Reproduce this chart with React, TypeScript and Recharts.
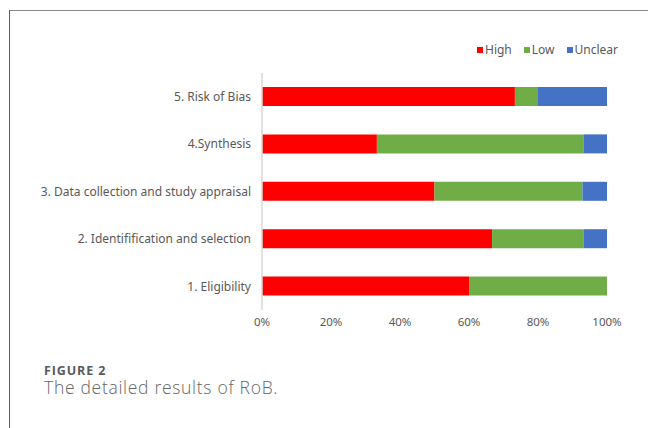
import React from "react";
import { BarChart, Bar, XAxis, YAxis, Legend } from "recharts";

const categories = [
  "5. Risk of Bias",
  "4.Synthesis",
  "3. Data collection and study appraisal",
  "2. Identifification and selection",
  "1. Eligibility",
];
const highValues = [73.3, 33.3, 50, 66.7, 60];
const lowValues = [6.7, 60, 42.9, 26.6, 40];
const unclearValues = [20, 6.7, 7.1, 6.7, 0];
const xTicks = [0, 20, 40, 60, 80, 100];

const seriesNames = ["High", "Low", "Unclear"];
const seriesColors = ["#FF0000", "#70AD47", "#4472C4"];

const data = categories.map((c, i) => ({
  name: c,
  High: highValues[i],
  Low: lowValues[i],
  Unclear: unclearValues[i],
}));

const FONT = "'Noto Sans', 'Open Sans', sans-serif";

const LegendContent = (props: any) => {
  const payload = props.payload || [];
  return (
    <div style={{ display: "flex", height: 16, lineHeight: "16px", fontFamily: FONT, fontSize: 12, color: "#595959" }}>
      {payload.map((p: any, i: number) => (
        <div key={i} style={{ display: "flex", alignItems: "center", marginRight: 12 }}>
          <span style={{ width: 6, height: 6, background: p.color, display: "inline-block", marginRight: 2 }} />
          <span>{p.value}</span>
        </div>
      ))}
    </div>
  );
};

export default function App() {
  return (
    <div style={{ position: "absolute", left: 0, top: 0, width: 648, height: 428, background: "#fff", overflow: "hidden" }}>
      <div style={{ position: "absolute", left: 9, top: 10, width: 639, height: 1, background: "#8a8a8a" }} />
      <div style={{ position: "absolute", left: 9, top: 10, width: 1, height: 418, background: "#5a5a5a" }} />
      <div style={{ position: "absolute", left: 0, top: 0 }}>
        <BarChart
          width={648}
          height={428}
          data={data}
          layout="vertical"
          margin={{ top: 57, right: 41, bottom: 88, left: 0 }}
        >
          <XAxis
            type="number"
            domain={[0, 100]}
            ticks={xTicks}
            tickFormatter={(v: number) => `${v}%`}
            axisLine={false}
            tickLine={false}
            tickSize={0}
            tickMargin={8}
            height={30}
            tick={{ fill: "#595959", fontSize: 11.5, fontFamily: FONT }}
          />
          <YAxis
            type="category"
            dataKey="name"
            width={262}
            axisLine={{ stroke: "#d9d9d9", strokeWidth: 1.5 }}
            tickLine={false}
            tickSize={0}
            tickMargin={11}
            tick={{ fill: "#595959", fontSize: 12, fontFamily: FONT }}
          />
          <Legend
            verticalAlign="top"
            align="right"
            content={<LegendContent />}
            wrapperStyle={{ position: "absolute", top: 42, left: 477, width: 170, height: 16 }}
          />
          {seriesNames.map((s, i) => (
            <Bar key={s} dataKey={s} stackId="a" fill={seriesColors[i]} barSize={19} isAnimationActive={false} />
          ))}
        </BarChart>
      </div>
      <div style={{ position: "absolute", left: 44, top: 365, lineHeight: 1, fontFamily: "'Open Sans', sans-serif", fontWeight: 700, fontSize: 12.5, letterSpacing: 0.9, color: "#5a5a5a" }}>
        FIGURE 2
      </div>
      <div style={{ position: "absolute", left: 44, top: 378.5, lineHeight: 1, fontFamily: "'Open Sans', sans-serif", fontWeight: 300, fontSize: 17.5, letterSpacing: 0.7, color: "#666" }}>
        The detailed results of RoB.
      </div>
    </div>
  );
}
